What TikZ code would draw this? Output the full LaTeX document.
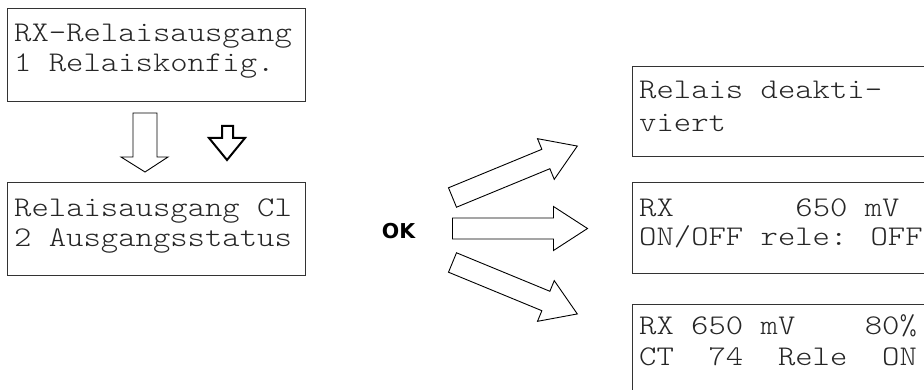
\documentclass[tikz,border=0pt]{standalone}
\usepackage{fontspec}
\newfontfamily\lcdfont{Latin Modern Mono Light}[FakeStretch=1.16]
\newfontfamily\oksans{DejaVu Sans}
\begin{document}
\begin{tikzpicture}[x=1pt,y=-1pt,
  lcdbox/.style={draw=black!80, line width=1pt, anchor=north west, inner sep=0pt, outer sep=0pt, minimum width=#1},
  lcdtext/.style={anchor=base west, inner sep=0pt, text=black!85, font=\lcdfont\fontsize{28.5}{30}\selectfont},
  blockarrow/.style={draw=black, line width=0.9pt, fill=white, line join=miter},
  thickarrow/.style={draw=black, line width=2pt, fill=white, line join=miter}]
\clip (0,0) rectangle (924,390);
\useasboundingbox (0,0) rectangle (924,390);
% left boxes
\node[lcdbox=298, minimum height=93] (b1) at (7,9) {};
\node[lcdtext] (b1a) at (14,42) {RX-Relaisausgang};
\node[lcdtext] (b1b) at (14,72) {1 Relaiskonfig.};
\node[lcdbox=298, minimum height=93] (b2) at (7,183) {};
\node[lcdtext] (b2a) at (14,217) {Relaisausgang Cl};
\node[lcdtext] (b2b) at (14,247) {2 Ausgangsstatus};
% right boxes
\node[lcdbox=310, minimum height=90] (r1) at (632,67) {};
\node[lcdtext] (r1a) at (639,99) {Relais deakti-};
\node[lcdtext] (r1b) at (639,132) {viert};
\node[lcdbox=310, minimum height=91] (r2) at (632,183) {};
\node[lcdtext] (r2a) at (639,217) {RX~~~~~~~650 mV};
\node[lcdtext] (r2b) at (639,246) {ON/OFF rele: OFF};
\node[lcdbox=310, minimum height=120] (r3) at (632,304) {};
\node[lcdtext] (r3a) at (639,334) {RX 650 mV~~~~80\%};
\node[lcdtext] (r3b) at (639,365) {CT~~74~~Rele~~ON};
% down arrows
\draw[blockarrow] (133,113) -- (157,113) -- (157,157) -- (168,157) -- (145,172) -- (121,157) -- (133,157) -- cycle;
\draw[thickarrow] (222,126) -- (233,126) -- (233,138) -- (245,138) -- (227,160) -- (209,138) -- (222,138) -- cycle;
% OK label
\node[font=\oksans\bfseries\fontsize{20.5}{20.5}\selectfont, inner sep=0pt] (ok) at (398.5,231) {OK};
% fan of arrows
\foreach \ty/\ang in {197.5/22.4, 228.5/0, 262.5/-22.4}{
  \begin{scope}[shift={(452.5,\ty)}, rotate=\ang]
    \draw[blockarrow] (0,-10.5) -- (101,-10.5) -- (101,-22) -- (135,0) -- (101,22) -- (101,10.5) -- (0,10.5) -- cycle;
  \end{scope}
}
\end{tikzpicture}
\end{document}
